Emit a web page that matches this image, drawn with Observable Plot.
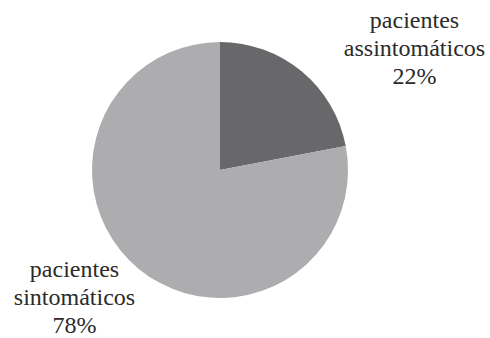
<!DOCTYPE html>
<html>
<head>
<meta charset="utf-8">
<script src="https://cdn.jsdelivr.net/npm/d3@7"></script>
<script src="https://cdn.jsdelivr.net/npm/@observablehq/plot@0.6"></script>
<style>
  html, body { margin: 0; padding: 0; background: #fff; font-family: "Liberation Serif", serif; }
  #chart { position: relative; width: 490px; height: 338px; }
  svg text, svg tspan { font-family: "Liberation Serif", serif !important; }
  #fontprime { position: absolute; left: 0; top: 0; font-family: "Liberation Serif", serif; font-size: 24px; color: #fff; pointer-events: none; }
</style>
</head>
<body>
<div id="chart"></div>
<div id="fontprime">&#160;</div>
<script>
// ---- data ----
const categoryLines = [["pacientes", "assintomáticos"], ["pacientes", "sintomáticos"]];
const values = [22, 78];
const colors = ["#68686b", "#adadb0"];

// ---- layout ----
const W = 490, H = 338;
const center = {x: 220, y: 170};
const radius = 128;
const labelAnchors = [{x: 414, y: 7}, {x: 74, y: 256}];

const slices = values.map((v, i) => ({
  lines: categoryLines[i], value: v, color: colors[i]
}));
const labels = slices.map((s, i) => ({
  x: labelAnchors[i].x, y: labelAnchors[i].y,
  text: [...s.lines, `${s.value}%`].join("\n")
}));

function pieMark(index, scales) {
  const pie = d3.pie().sort(null).value(d => d.value)(slices);
  const arc = d3.arc().innerRadius(0).outerRadius(radius);
  const g = d3.create("svg:g")
    .attr("transform", `translate(${scales.x(center.x)},${scales.y(center.y)})`);
  g.selectAll("path").data(pie).join("path")
    .attr("d", arc)
    .attr("fill", d => d.data.color);
  return g.node();
}

const chart = Plot.plot({
  width: W,
  height: H,
  margin: 0,
  x: {domain: [0, W], range: [0, W], axis: null},
  y: {domain: [0, H], range: [0, H], axis: null},
  marks: [
    pieMark,
    Plot.text(labels, {
      x: "x", y: "y", text: "text",
      textAnchor: "middle",
      lineAnchor: "top",
      lineHeight: 1.18,
      fontSize: 24,
      fontFamily: "Liberation Serif",
      fill: "#2b2b2b"
    })
  ]
});
chart.setAttribute("font-family", "Liberation Serif, serif");
document.getElementById("chart").appendChild(chart);
</script>
</body>
</html>
